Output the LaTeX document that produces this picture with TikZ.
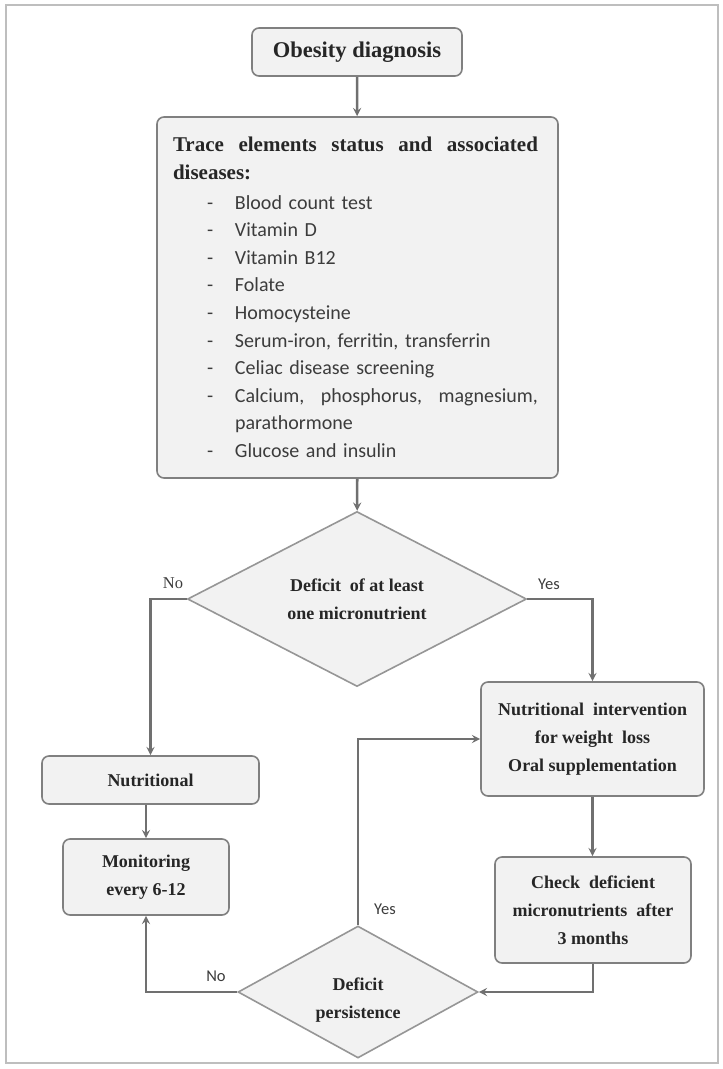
\documentclass[tikz,border=0pt]{standalone}
\usepackage{fontspec}
\setmainfont{Carlito}
\newfontfamily\serifbox{Liberation Serif}
\usepackage{tikz}
\usetikzlibrary{shapes.geometric,arrows,positioning}

\definecolor{linegray}{RGB}{112,112,112}
\definecolor{boxgray}{RGB}{242,242,242}
\definecolor{edgegray}{RGB}{128,128,128}
\definecolor{diagray}{RGB}{150,150,150}
\definecolor{framegray}{RGB}{190,190,190}
\definecolor{txtgray}{RGB}{60,60,60}

\tikzset{
  stepbox/.style={draw=edgegray, fill=boxgray, line width=1.6pt, rounded corners=7pt,
    align=center, inner sep=0pt, text=black!85,
    font=\serifbox\bfseries\fontsize{18}{28}\selectfont},
  decision/.style={diamond, aspect=2, draw=diagray, fill=boxgray, line width=1.6pt,
    inner sep=0pt, align=center, text=black!85,
    font=\serifbox\bfseries\fontsize{18}{28}\selectfont},
  flow/.style={draw=linegray, line width=2.6pt, -stealth},
  lbl/.style={text=txtgray, font=\fontsize{16.5}{18}\selectfont}
}

\begin{document}
\begin{tikzpicture}[x=1pt, y=-1pt]
\useasboundingbox (0,0) rectangle (723,1069);
\draw[framegray, line width=1.6pt] (6,5) rectangle (718,1063);

\node[stepbox, minimum width=210pt, minimum height=48pt,
  font=\serifbox\bfseries\fontsize{22.5}{28}\selectfont] (diag) at (357,52) {Obesity diagnosis};

\node[stepbox, minimum width=401pt, minimum height=361pt, inner xsep=16pt,
  text width=369pt, align=left, text=txtgray,
  font=\fontsize{20}{27.6}\selectfont] (trace) at (357.5,297.5) {%
{\serifbox\bfseries\fontsize{21}{27.6}\selectfont\color{black!85}\hbox to 365pt{Trace\hfill elements\hfill status\hfill and\hfill associated}}\\
{\serifbox\bfseries\fontsize{21}{27.6}\selectfont\color{black!85}diseases:}\\[2pt]
\hspace*{34pt}\makebox[28pt][l]{-}Blood count  test\\
\hspace*{34pt}\makebox[28pt][l]{-}Vitamin D\\
\hspace*{34pt}\makebox[28pt][l]{-}Vitamin B12\\
\hspace*{34pt}\makebox[28pt][l]{-}Folate\\
\hspace*{34pt}\makebox[28pt][l]{-}Homocysteine\\
\hspace*{34pt}\makebox[28pt][l]{-}Serum-iron, ferritin, transferrin\\
\hspace*{34pt}\makebox[28pt][l]{-}Celiac disease screening\\
\hspace*{34pt}\makebox[28pt][l]{-}\hbox to 303pt{Calcium,\hfill phosphorus,\hfill magnesium,}\\
\hspace*{62pt}parathormone\\
\hspace*{34pt}\makebox[28pt][l]{-}Glucose and insulin};

\node[decision, minimum width=339pt, minimum height=175pt] (deficit) at (357,599)
  {Deficit\ \ of at least\\ one micronutrient};

\node[stepbox, minimum width=217pt, minimum height=48pt] (nutri) at (150.5,780) {Nutritional};
\node[stepbox, minimum width=166pt, minimum height=76pt] (monit) at (146,877) {Monitoring\\ every 6-12};
\node[stepbox, minimum width=223pt, minimum height=114pt] (interv) at (592.5,739)
  {Nutritional\ \ intervention\\ for weight\ \ loss\\ Oral supplementation};
\node[stepbox, minimum width=196pt, minimum height=106pt] (check) at (593,910)
  {Check\ \ deficient\\ micronutrients\ \ after\\ 3 months};

\node[decision, minimum width=240pt, minimum height=132pt] (persist) at (358,992)
  {\raisebox{-11pt}[0pt][0pt]{\begin{tabular}{@{}c@{}}Deficit\\ persistence\end{tabular}}};

% connectors
\draw[flow] (diag) -- (trace);
\draw[flow] (trace) -- (deficit);
\draw[flow] (deficit.west) -| (nutri.north);
\draw[flow] (deficit.east) -| (interv.north);
\draw[flow] (monit.north |- nutri.south) -- (monit.north);
\draw[flow] (interv) -- (interv.south |- check.north);
\draw[flow] (check.south) |- (persist.east);
\draw[flow] (persist.west) -| (monit.south);
\draw[flow] (persist.north) |- (interv.west);

% branch labels
\node[lbl, font=\serifbox\fontsize{16.5}{18}\selectfont] (no1) at (173,583) {No};
\node[lbl] (yes1) at (549,584) {Yes};
\node[lbl] (yes2) at (385,909) {Yes};
\node[lbl] (no2) at (216,976) {No};
\end{tikzpicture}
\end{document}
